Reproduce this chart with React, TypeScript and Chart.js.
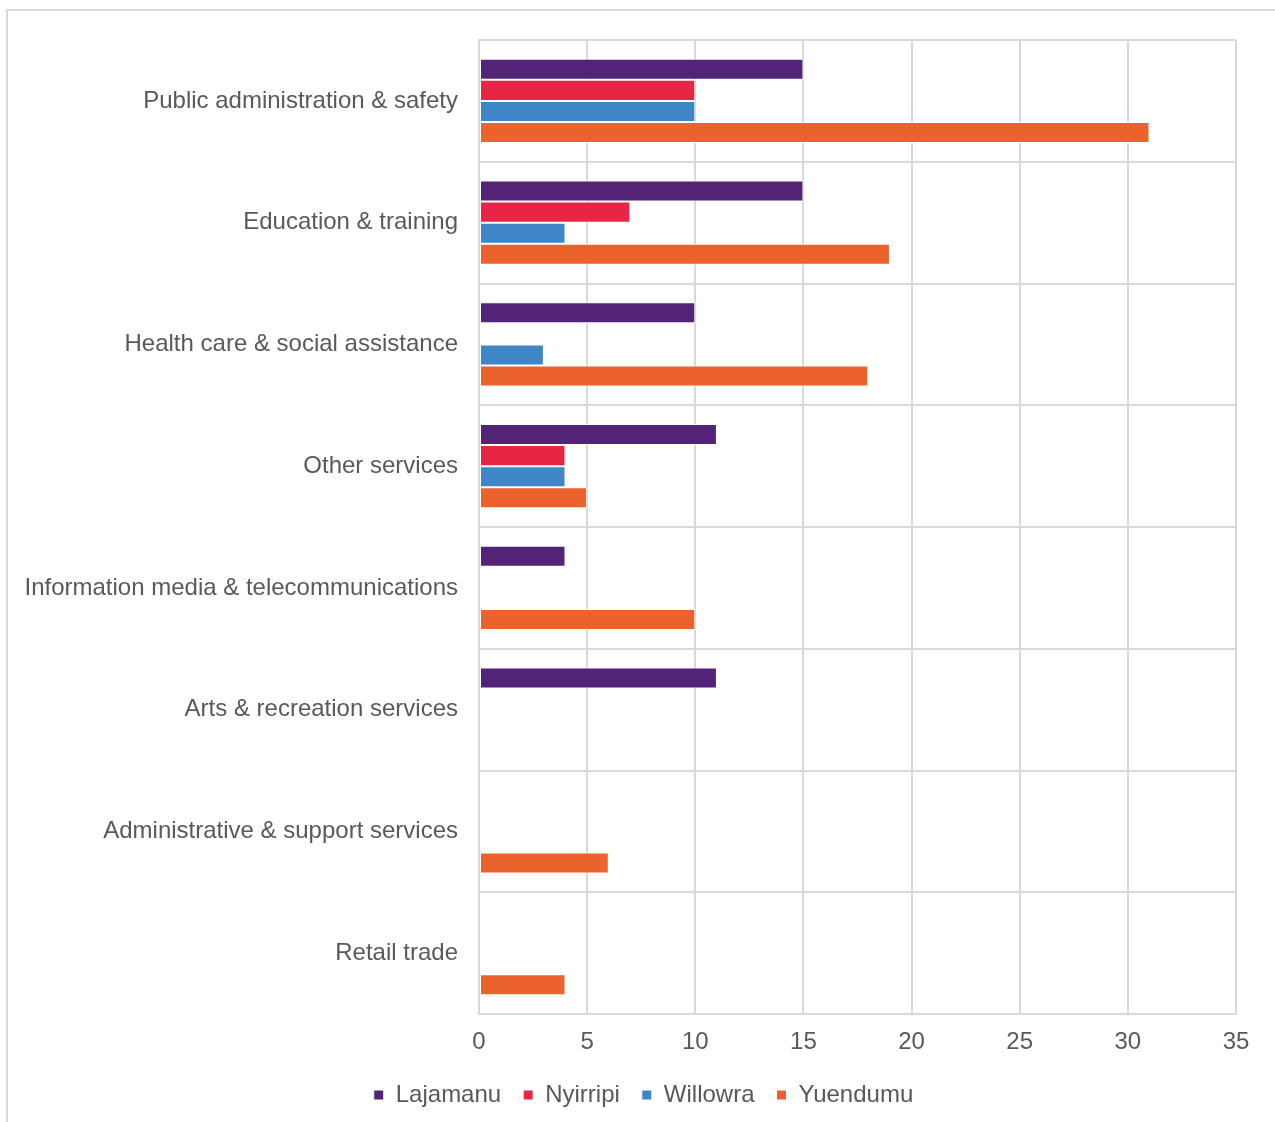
import React, { useEffect, useRef } from "react";
import { Chart, registerables } from "chart.js";

Chart.register(...registerables);

const categories = [
  "Public administration & safety",
  "Education & training",
  "Health care & social assistance",
  "Other services",
  "Information media & telecommunications",
  "Arts & recreation services",
  "Administrative & support services",
  "Retail trade",
];

const seriesNames = ["Lajamanu", "Nyirripi", "Willowra", "Yuendumu"];
const lajamanu = [15, 15, 10, 11, 4, 11, 0, 0];
const nyirripi = [10, 7, 0, 4, 0, 0, 0, 0];
const willowra = [10, 4, 3, 4, 0, 0, 0, 0];
const yuendumu = [31, 19, 18, 5, 10, 0, 6, 4];
const seriesColors = ["#522377", "#E72646", "#3F86C7", "#EC622D"];
const xTicks = [0, 5, 10, 15, 20, 25, 30, 35];

export default function App() {
  const canvasRef = useRef<HTMLCanvasElement | null>(null);

  useEffect(() => {
    const canvas = canvasRef.current;
    if (!canvas) return;
    const values = [lajamanu, nyirripi, willowra, yuendumu];
    const font = "'Liberation Sans', Arial, sans-serif";
    const chart = new Chart(canvas, {
      type: "bar",
      data: {
        labels: categories,
        datasets: seriesNames.map((name, i) => ({
          label: name,
          data: values[i],
          backgroundColor: seriesColors[i],
          borderColor: "#ffffff",
          borderWidth: 1,
          borderSkipped: false,
          barPercentage: 1,
          categoryPercentage: 0.69,
        })),
      },
      options: {
        indexAxis: "y",
        responsive: false,
        animation: false,
        layout: { padding: { top: 40, right: 39, bottom: 5, left: 0 } },
        scales: {
          x: {
            min: 0,
            max: 35,
            afterBuildTicks: (axis: any) => {
              axis.ticks = xTicks.map((v) => ({ value: v }));
            },
            afterFit: (axis: any) => {
              axis.height = 47;
            },
            ticks: {
              color: "#595959",
              font: { family: font, size: 24 },
              padding: 14,
            },
            grid: { color: "#d9d9d9", lineWidth: 2, drawTicks: false },
            border: { color: "#d9d9d9", width: 2 },
          },
          y: {
            afterFit: (axis: any) => {
              axis.width = 479;
            },
            ticks: {
              color: "#595959",
              font: { family: font, size: 24 },
              padding: 21,
            },
            grid: { color: "#d9d9d9", lineWidth: 2, drawTicks: false, offset: true },
            border: { color: "#d9d9d9", width: 2 },
          },
        },
        plugins: {
          legend: {
            position: "bottom",
            labels: {
              color: "#595959",
              font: { family: font, size: 24 },
              boxWidth: 10,
              boxHeight: 10,
              padding: 22,
            },
          },
          tooltip: { enabled: false },
        },
      },
      plugins: [
        {
          id: "legendPlacement",
          beforeLayout: (c: any) => {
            if (c.legend && !c.legend.__patched) {
              c.legend.__patched = true;
              c.legend.afterFit = function () {
                this.height = 56;
              };
            }
          },
          afterLayout: (c: any) => {
            if (c.legend) {
              c.legend.left = 51;
            }
          },
        },
        {
          id: "topBorder",
          afterDraw: (c: any) => {
            const { ctx, chartArea } = c;
            ctx.save();
            ctx.strokeStyle = "#d9d9d9";
            ctx.lineWidth = 2;
            ctx.beginPath();
            ctx.moveTo(chartArea.left, chartArea.top);
            ctx.lineTo(chartArea.right, chartArea.top);
            ctx.stroke();
            ctx.restore();
          },
        },
      ],
    } as any);
    return () => chart.destroy();
  }, []);

  return (
    <div
      style={{
        position: "absolute",
        left: 0,
        top: 0,
        width: 1275,
        height: 1122,
        overflow: "hidden",
        background: "#ffffff",
      }}
    >
      <div
        style={{
          position: "absolute",
          left: 6,
          top: 9,
          width: 1300,
          height: 1200,
          border: "2px solid #d9d9d9",
        }}
      />
      <canvas
        ref={canvasRef}
        width={1275}
        height={1122}
        style={{ position: "absolute", left: 0, top: 0, width: 1275, height: 1122 }}
      />
    </div>
  );
}
